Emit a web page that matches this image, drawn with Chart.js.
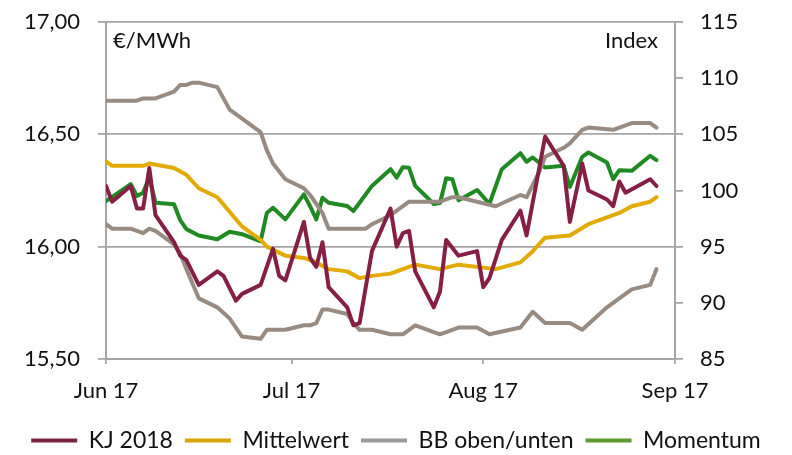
<!DOCTYPE html>
<html>
<head>
<meta charset="utf-8">
<script src="https://cdn.jsdelivr.net/npm/chart.js@4/dist/chart.umd.min.js"></script>
<style>
  html, body { margin: 0; padding: 0; background: #fff; }
  #wrap { width: 792px; height: 455px; }
</style>
</head>
<body>
<div id="wrap"><canvas id="chart" width="792" height="455"></canvas></div>
<script>
// x = Tage seit 1. Juni 2017 (nur Handelstage)
var tickDays = [0, 30, 61, 92];
var tickLabels = ['Jun 17', 'Jul 17', 'Aug 17', 'Sep 17'];
var seriesNames = ['KJ 2018', 'Mittelwert', 'BB oben/unten', '', 'Momentum'];
var unitLeft = '€/MWh';
var unitRight = 'Index';

// KJ 2018, €/MWh
var kjDays = [0,1,4,5,6,7,8,11,12,13,15,18,19,21,22,25,27,28,29,32,33,34,35,36,39,40,41,43,46,47,48,49,50,53,54,55,57,60,61,62,64,67,68,71,74,75,77,78,81,82,83,84,88,89];
var kjValues = [16.27,16.20,16.27,16.17,16.17,16.35,16.14,16.02,15.96,15.94,15.83,15.89,15.87,15.76,15.79,15.83,15.99,15.87,15.85,16.11,15.95,15.91,16.02,15.82,15.73,15.65,15.66,15.98,16.17,16.00,16.06,16.07,15.89,15.73,15.80,16.03,15.96,15.98,15.82,15.86,16.03,16.16,16.05,16.49,16.36,16.11,16.37,16.25,16.21,16.18,16.29,16.24,16.30,16.27];

// Mittelwert, €/MWh
var mwDays = [0,1,4,6,7,11,13,15,18,22,25,26,29,32,34,36,39,41,43,46,47,50,54,57,60,63,67,69,71,75,78,81,83,85,88,89];
var mwValues = [16.38,16.36,16.36,16.36,16.37,16.35,16.32,16.26,16.22,16.09,16.03,16.00,15.96,15.95,15.93,15.90,15.89,15.86,15.87,15.88,15.89,15.92,15.90,15.92,15.91,15.90,15.93,15.98,16.04,16.05,16.10,16.13,16.15,16.18,16.20,16.22];

// Bollinger-Band oben, €/MWh
var bbUpDays = [0,5,6,8,11,12,13,14,15,18,20,22,25,26,27,29,32,33,34,35,36,39,40,42,43,46,47,49,53,54,56,57,60,63,67,68,70,71,74,75,77,78,82,83,85,88,89];
var bbUpValues = [16.65,16.65,16.66,16.66,16.69,16.72,16.72,16.73,16.73,16.71,16.61,16.57,16.51,16.43,16.37,16.30,16.26,16.23,16.19,16.15,16.08,16.08,16.08,16.08,16.10,16.14,16.16,16.20,16.20,16.20,16.22,16.22,16.20,16.18,16.23,16.22,16.33,16.40,16.44,16.46,16.52,16.53,16.52,16.53,16.55,16.55,16.53];

// Bollinger-Band unten, €/MWh
var bbLoDays = [0,1,4,6,7,8,11,12,13,15,18,20,22,25,26,29,32,33,34,35,36,39,40,41,43,46,48,50,54,57,60,62,67,69,71,75,77,81,82,85,88,89];
var bbLoValues = [16.10,16.08,16.08,16.06,16.08,16.07,16.01,15.97,15.90,15.77,15.73,15.68,15.60,15.59,15.63,15.63,15.65,15.65,15.66,15.72,15.72,15.70,15.66,15.63,15.63,15.61,15.61,15.65,15.61,15.64,15.64,15.61,15.64,15.71,15.66,15.66,15.63,15.73,15.75,15.81,15.83,15.90];

// Momentum, Index (rechte Achse)
var moDays = [0,4,5,6,7,8,11,12,13,15,18,20,22,25,26,27,29,32,33,34,35,36,39,40,41,43,46,47,48,49,50,53,54,55,56,57,60,62,64,67,68,69,71,74,75,77,78,81,82,83,85,88,89];
var moValues = [99.06,100.56,99.51,99.81,101.15,98.91,98.77,97.36,96.56,95.99,95.66,96.33,96.11,95.48,97.99,98.46,97.43,99.66,98.6,97.43,99.36,98.91,98.62,98.17,98.91,100.41,101.90,101.15,102.08,102.02,100.41,98.80,98.89,101.10,101.01,99.13,100.05,98.82,101.90,103.32,102.56,102.94,102.05,102.20,100.32,103.00,103.39,102.49,101.01,101.81,101.75,103.09,102.71];

var lineColors = ['#861f44', '#e3aa00', '#978b82', '#978b82', '#1f8a22'];
var legendColors = ['#7b2340', '#dba400', '#9b9b9b', '#9b9b9b', '#5b9a2e'];
var axisColor = '#a6a6a6';
var textColor = '#111111';
var fontFamily = 'Lato, "Open Sans", sans-serif';

function toPoints(days, values){
    var pts = [];
    for (var i = 0; i < days.length; i++) {
        pts.push({x: days[i], y: values[i]});
    }
    return pts;
}

function lineSet(i, days, values, axis){
    return {
        label: seriesNames[i],
        data: toPoints(days, values),
        yAxisID: axis,
        borderColor: lineColors[i],
        backgroundColor: lineColors[i],
        borderWidth: 4,
        borderJoinStyle: 'round',
        borderCapStyle: 'round',
        pointRadius: 0,
        tension: 0,
        fill: false
    };
}

// y-Achsen: feste Breite, kein Zusatzrand oben/unten
function fitY(width){
    return function(scale){
        scale.width = width;
        scale.paddingTop = 10;
        scale.paddingBottom = 10;
    };
}

// Einheiten oben im Diagramm
var unitLabels = {
    id: 'unitLabels',
    afterLayout: function(chart){
        // Legende etwas tiefer setzen
        chart.legend.top += 7;
        chart.legend.bottom += 7;
    },
    afterDraw: function(chart){
        var ctx = chart.ctx, a = chart.chartArea;
        ctx.save();
        ctx.font = '22px ' + fontFamily;
        ctx.fillStyle = textColor;
        ctx.textBaseline = 'middle';
        ctx.textAlign = 'left';
        ctx.fillText(unitLeft, a.left + 7, a.top + 19);
        ctx.textAlign = 'right';
        ctx.fillText(unitRight, a.right - 17, a.top + 19);
        ctx.restore();
    }
};

var config = {
    type: 'line',
    data: {
        datasets: [
            lineSet(0, kjDays, kjValues, 'yL'),
            lineSet(1, mwDays, mwValues, 'yL'),
            lineSet(2, bbUpDays, bbUpValues, 'yL'),
            lineSet(3, bbLoDays, bbLoValues, 'yL'),
            lineSet(4, moDays, moValues, 'yR')
        ]
    },
    options: {
        responsive: false,
        animation: false,
        layout: { padding: { top: 22, left: 0, right: 0, bottom: 0 } },
        plugins: {
            tooltip: { enabled: false },
            legend: {
                position: 'bottom',
                labels: {
                    font: { family: fontFamily, size: 23 },
                    color: textColor,
                    boxWidth: 46,
                    boxHeight: 4,
                    padding: 12,
                    generateLabels: function(chart){
                        return chart.data.datasets.map(function(ds, i){
                            return {
                                text: ds.label,
                                fillStyle: legendColors[i],
                                strokeStyle: legendColors[i],
                                lineWidth: 0,
                                fontColor: textColor,
                                datasetIndex: i,
                                hidden: false
                            };
                        }).filter(function(l){ return l.text; });
                    }
                }
            }
        },
        scales: {
            x: {
                type: 'linear',
                min: 0,
                max: 92,
                afterBuildTicks: function(scale){
                    scale.ticks = tickDays.map(function(v){ return {value: v}; });
                },
                afterFit: function(scale){ scale.height = 51; },
                ticks: {
                    autoSkip: false,
                    maxRotation: 0,
                    padding: 14,
                    color: textColor,
                    font: { family: fontFamily, size: 22 },
                    callback: function(v){
                        var i = tickDays.indexOf(v);
                        return i >= 0 ? tickLabels[i] : '';
                    }
                },
                grid: { drawOnChartArea: false, drawTicks: true, tickLength: 5, color: axisColor, lineWidth: 1.8 },
                border: { display: true, color: axisColor, width: 2 }
            },
            yL: {
                position: 'left',
                min: 15.5,
                max: 17,
                afterFit: fitY(106),
                ticks: {
                    stepSize: 0.5,
                    padding: 18,
                    color: textColor,
                    font: { family: fontFamily, size: 22 },
                    callback: function(v){ return v.toFixed(2).replace('.', ','); }
                },
                grid: { color: axisColor, lineWidth: 1.8, tickLength: 8 },
                border: { display: true, color: axisColor, width: 2 }
            },
            yR: {
                position: 'right',
                min: 85,
                max: 115,
                afterFit: fitY(117),
                ticks: {
                    stepSize: 5,
                    padding: 17,
                    color: textColor,
                    font: { family: fontFamily, size: 22 }
                },
                grid: { drawOnChartArea: false, color: axisColor, lineWidth: 1.8, tickLength: 8 },
                border: { display: true, color: axisColor, width: 2 }
            }
        }
    },
    plugins: [unitLabels]
};

var myChart = new Chart(document.getElementById('chart'), config);
</script>
</body>
</html>
